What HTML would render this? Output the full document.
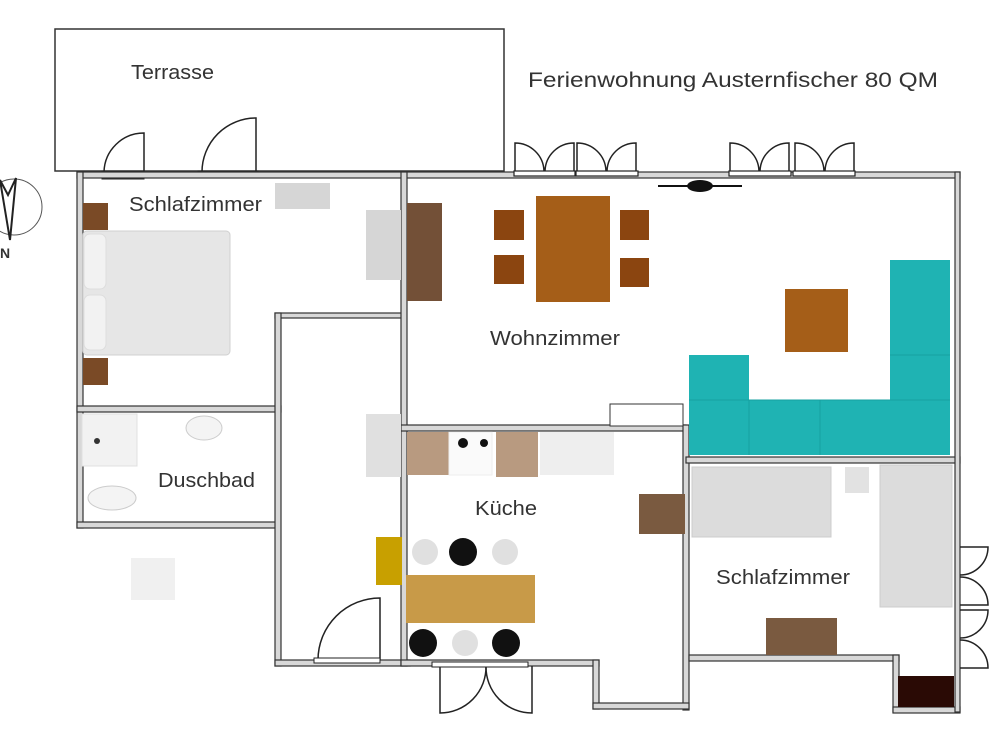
<!DOCTYPE html>
<html><head><meta charset="utf-8"><style>
html,body{margin:0;padding:0;background:#fff;width:1000px;height:750px;overflow:hidden}
text{font-family:"Liberation Sans",sans-serif;fill:#333}
.w{fill:#d8d8d8;stroke:#333;stroke-width:1.2}
.d{fill:none;stroke:#222;stroke-width:1.5}
</style></head><body>
<svg width="1000" height="750" viewBox="0 0 1000 750" xmlns="http://www.w3.org/2000/svg">
<!-- terrace -->
<rect x="55" y="29" width="449" height="142" fill="none" stroke="#333" stroke-width="1.5"/>
<text x="131" y="79" font-size="20" textLength="83" lengthAdjust="spacingAndGlyphs">Terrasse</text>
<text x="528" y="87" font-size="21" textLength="410" lengthAdjust="spacingAndGlyphs">Ferienwohnung Austernfischer 80 QM</text>
<!-- terrace doors -->
<path class="d" d="M144 172 V133 A40 40 0 0 0 104 172"/>
<path class="d" d="M256 172 V118 A54 54 0 0 0 202 172"/>
<rect x="102" y="171" width="42" height="8" fill="#fff" stroke="#222"/>
<rect x="198" y="171" width="60" height="5" fill="#fff" stroke="#222"/>
<!-- compass -->
<circle cx="14" cy="207" r="28" fill="none" stroke="#555" stroke-width="1"/>
<path d="M0 180 L8 195 L16 178 L10 240 Z" fill="none" stroke="#222" stroke-width="2"/>
<text x="0" y="258" font-size="14" font-weight="bold">N</text>
<!-- walls -->
<rect class="w" x="77" y="172" width="883" height="6"/>
<rect class="w" x="77" y="172" width="6" height="356"/>
<rect class="w" x="77" y="522" width="203" height="6"/>
<rect class="w" x="77" y="406" width="204" height="6"/>
<rect class="w" x="275" y="313" width="131" height="5"/>
<rect class="w" x="275" y="313" width="6" height="353"/>
<rect class="w" x="275" y="660" width="135" height="6"/>
<rect class="w" x="401" y="172" width="6" height="494"/>
<rect class="w" x="401" y="425" width="285" height="6"/>
<rect class="w" x="683" y="425" width="6" height="285"/>
<rect class="w" x="401" y="660" width="198" height="6"/>
<rect class="w" x="593" y="660" width="6" height="49"/>
<rect class="w" x="593" y="703" width="96" height="6"/>
<rect class="w" x="686" y="457" width="274" height="6"/>
<rect class="w" x="689" y="655" width="210" height="6"/>
<rect class="w" x="893" y="655" width="6" height="57"/>
<rect class="w" x="893" y="707" width="67" height="6"/>
<rect class="w" x="955" y="172" width="5" height="540"/>
<!-- living room doors top -->
<g fill="#fff" stroke="#222" stroke-width="1.2">
<rect x="514" y="171" width="61" height="5"/><rect x="576" y="171" width="62" height="5"/>
<rect x="729" y="171" width="62" height="5"/><rect x="793" y="171" width="62" height="5"/>
</g>
<g class="d">
<path d="M515 171 V143 A29 29 0 0 1 544 171 M574 171 V143 A29 29 0 0 0 545 171"/>
<path d="M577 171 V143 A29 29 0 0 1 606 171 M636 171 V143 A29 29 0 0 0 607 171"/>
<path d="M730 171 V143 A29 29 0 0 1 759 171 M789 171 V143 A29 29 0 0 0 760 171"/>
<path d="M795 171 V143 A29 29 0 0 1 824 171 M854 171 V143 A29 29 0 0 0 825 171"/>
</g>
<ellipse cx="700" cy="186" rx="13" ry="6" fill="#111"/>
<path d="M658 186 H742" stroke="#111" stroke-width="2"/>
<!-- kitchen outside door -->
<g class="d">
<path d="M440 666 V713 A46 46 0 0 0 486 666"/>
<path d="M532 666 V713 A46 46 0 0 1 486 666"/>
</g>
<rect x="432" y="662" width="96" height="5" fill="#fff" stroke="#222"/>
<!-- hall door -->
<path class="d" d="M380 660 V598 A62 62 0 0 0 318 660"/>
<rect x="314" y="658" width="66" height="5" fill="#fff" stroke="#222"/>
<!-- right side doors -->
<g class="d">
<path d="M960 547 H988 A28 28 0 0 1 960 575 M960 605 H988 A28 28 0 0 0 960 577"/>
<path d="M960 610 H988 A28 28 0 0 1 960 638 M960 668 H988 A28 28 0 0 0 960 640"/>
</g>
<!-- bedroom 1 -->
<text x="129" y="211" font-size="20" textLength="133" lengthAdjust="spacingAndGlyphs">Schlafzimmer</text>
<rect x="275" y="183" width="55" height="26" fill="#d6d6d6"/>
<rect x="366" y="210" width="35" height="70" fill="#d6d6d6"/>
<rect x="83" y="203" width="25" height="27" fill="#7a4a26"/>
<rect x="83" y="358" width="25" height="27" fill="#7a4a26"/>
<rect x="83" y="231" width="147" height="124" rx="4" fill="#e6e6e6" stroke="#d0d0d0"/>
<rect x="84" y="234" width="22" height="55" rx="6" fill="#f2f2f2" stroke="#ddd"/>
<rect x="84" y="295" width="22" height="55" rx="6" fill="#f2f2f2" stroke="#ddd"/>
<!-- bath -->
<text x="158" y="487" font-size="20" textLength="97" lengthAdjust="spacingAndGlyphs">Duschbad</text>
<rect x="82" y="414" width="55" height="52" fill="#f2f2f2" stroke="#e0e0e0"/>
<circle cx="97" cy="441" r="3" fill="#333"/>
<ellipse cx="204" cy="428" rx="18" ry="12" fill="#f4f4f4" stroke="#ccc"/>
<ellipse cx="112" cy="498" rx="24" ry="12" fill="#f4f4f4" stroke="#ccc"/>
<rect x="131" y="558" width="44" height="42" fill="#f0f0f0"/>
<!-- living room -->
<text x="490" y="345" font-size="20" textLength="130" lengthAdjust="spacingAndGlyphs">Wohnzimmer</text>
<rect x="407" y="203" width="35" height="98" fill="#735037"/>
<rect x="536" y="196" width="74" height="106" fill="#a55e18"/>
<rect x="494" y="210" width="30" height="30" fill="#8b4510"/>
<rect x="494" y="255" width="30" height="29" fill="#8b4510"/>
<rect x="620" y="210" width="29" height="30" fill="#8b4510"/>
<rect x="620" y="258" width="29" height="29" fill="#8b4510"/>
<rect x="785" y="289" width="63" height="63" fill="#a55e18"/>
<path d="M689 355 H749 V400 H890 V260 H950 V455 H689 Z" fill="#1fb3b3"/>
<path d="M689 400 H950 M890 355 H950 M749 400 V455 M820 400 V455" stroke="#17a0a0" stroke-width="1"/>
<rect x="610" y="404" width="73" height="22" fill="#fff" stroke="#333"/>
<!-- kitchen -->
<text x="475" y="515" font-size="20" textLength="62" lengthAdjust="spacingAndGlyphs">Küche</text>
<rect x="407" y="432" width="42" height="43" fill="#b89a80"/>
<rect x="449" y="432" width="43" height="43" fill="#fafafa" stroke="#eee"/>
<circle cx="463" cy="443" r="5" fill="#111"/><circle cx="484" cy="443" r="4" fill="#111"/>
<rect x="496" y="432" width="42" height="45" fill="#b89a80"/>
<rect x="540" y="432" width="74" height="43" fill="#eeeeee"/>
<rect x="366" y="414" width="35" height="63" fill="#e0e0e0"/>
<rect x="639" y="494" width="46" height="40" fill="#7a5a40"/>
<rect x="376" y="537" width="26" height="48" fill="#c8a000"/>
<rect x="406" y="575" width="129" height="48" fill="#c89a48"/>
<g fill="#e0e0e0"><circle cx="425" cy="552" r="13"/><circle cx="505" cy="552" r="13"/><circle cx="465" cy="643" r="13"/></g>
<g fill="#111"><circle cx="463" cy="552" r="14"/><circle cx="423" cy="643" r="14"/><circle cx="506" cy="643" r="14"/></g>
<!-- bedroom 2 -->
<text x="716" y="584" font-size="20" textLength="134" lengthAdjust="spacingAndGlyphs">Schlafzimmer</text>
<rect x="692" y="467" width="139" height="70" fill="#dcdcdc" stroke="#ccc"/>
<rect x="845" y="467" width="24" height="26" fill="#e2e2e2"/>
<rect x="880" y="465" width="72" height="142" fill="#dcdcdc" stroke="#ccc"/>
<rect x="766" y="618" width="71" height="37" fill="#7a5a40"/>
<rect x="898" y="676" width="56" height="31" fill="#2a0a05"/>
</svg>
</body></html>
